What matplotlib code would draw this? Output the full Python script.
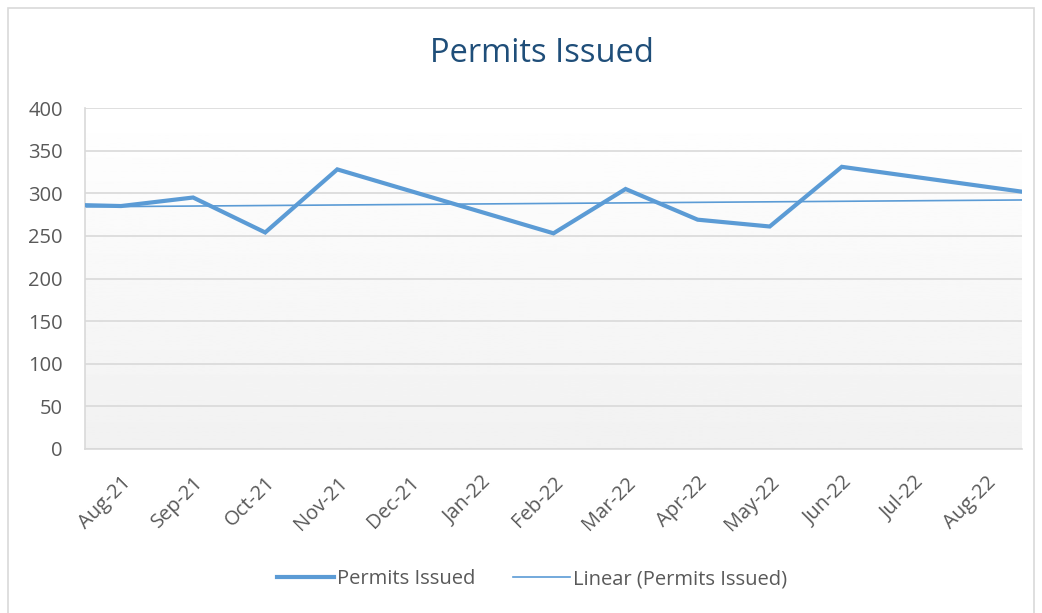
"""Permits issued per month with a linear trendline."""

import matplotlib.pyplot as plt
import numpy as np
from matplotlib.patches import Rectangle

# Month slots on the axis; Jul-21 and Sep-22 sit just outside the visible range
months = ["Jul-21", "Aug-21", "Sep-21", "Oct-21", "Nov-21", "Dec-21", "Jan-22",
          "Feb-22", "Mar-22", "Apr-22", "May-22", "Jun-22", "Jul-22", "Aug-22",
          "Sep-22"]
permits = [287, 285, 295, 254, 328, np.nan, np.nan,
           253, 305, 269, 261, 331, np.nan, np.nan, 296]
visible_labels = months[1:-1]

y_ticks = [0, 50, 100, 150, 200, 250, 300, 350, 400]

BLUE = "#5b9bd5"
GRID = "#d9d9d9"
TEXT = "#595959"

plt.rcParams["font.family"] = ["Open Sans", "DejaVu Sans"]

fig = plt.figure(figsize=(10.42, 6.13), dpi=100)
ax = fig.add_axes([85 / 1042, 1 - 449 / 613, (1022 - 85) / 1042, (449 - 108) / 613])

x = np.arange(len(months)) - 1
y = np.array(permits, dtype=float)
ok = ~np.isnan(y)

# Gradient plot area background (white top, light gray bottom)
grad = np.linspace(1.0, 0.945, 256).reshape(-1, 1)
ax.imshow(grad, cmap="gray", vmin=0, vmax=1, aspect="auto",
          extent=[0, 1, 0, 1], transform=ax.transAxes, zorder=0)

ax.plot(x[ok], y[ok], color=BLUE, lw=3.0, solid_joinstyle="miter",
        label="Permits Issued", zorder=3)

# Linear trendline fitted to the series
slope, intercept = np.polyfit(x[ok], y[ok], 1)
xt = np.array([-1.5, len(months)])
ax.plot(xt, slope * xt + intercept, color=BLUE, lw=1.2,
        label="Linear (Permits Issued)", zorder=2)

ax.set_xlim(-0.5, len(visible_labels) - 0.5)
ax.set_ylim(0, 400)
ax.set_yticks(y_ticks)
ax.set_xticks(np.arange(len(visible_labels)))
ax.set_xticklabels(visible_labels, rotation=45, ha="right",
                   rotation_mode="anchor")
ax.tick_params(axis="both", length=0, labelsize=14.5, colors=TEXT)
ax.tick_params(axis="x", pad=17)
ax.tick_params(axis="y", pad=16)

ax.grid(axis="y", color=GRID, lw=1.2, zorder=1)
ax.set_axisbelow(True)
for side in ["top", "right"]:
    ax.spines[side].set_visible(False)
for side in ["left", "bottom"]:
    ax.spines[side].set_color(GRID)
    ax.spines[side].set_linewidth(1.2)

fig.text(542 / 1042, 1 - 54 / 613, "Permits Issued", ha="center", va="center",
         fontsize=23.5, color="#1f4e79")

fig.legend(loc="center", bbox_to_anchor=(532 / 1042, 1 - 579 / 613), ncol=2,
           frameon=False, fontsize=14.5, labelcolor=TEXT, handlelength=2.8,
           handletextpad=0.15, columnspacing=1.9)

# Light chart border
fig.patches.append(Rectangle((8 / 1042, -0.01), (1034 - 8) / 1042, 1 - 8 / 613 + 0.01,
                             transform=fig.transFigure, fill=False,
                             edgecolor=GRID, lw=1.2))

fig.savefig("out.png", dpi=100)
plt.close(fig)
